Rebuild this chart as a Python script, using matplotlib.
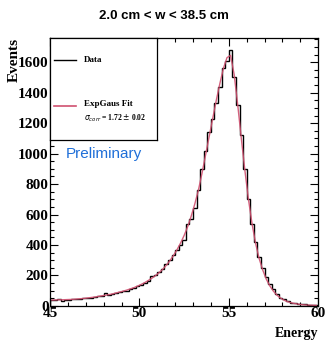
import numpy as np
import matplotlib
matplotlib.use("Agg")
import matplotlib.pyplot as plt
from matplotlib.ticker import MultipleLocator
from matplotlib.lines import Line2D

# bin edges of the histogram (0.2 wide, 45 -> 60)
bin_lo = 45.0
bin_hi = 60.0
bin_width = 0.2

# counts
counts = [40, 38, 42, 35, 40, 38, 42, 45, 43, 50,
          52, 55, 58, 62, 68, 85, 72, 78, 85, 90,
          95, 100, 110, 118, 128, 140, 150, 165, 195, 200,
          220, 245, 275, 300, 335, 370, 400, 430, 540, 570,
          640, 760, 900, 1020, 1140, 1230, 1330, 1440, 1560, 1610,
          1680, 1500, 1320, 1120, 900, 700, 540, 420, 320, 250,
          190, 145, 110, 80, 55, 42, 30, 22, 18, 14,
          12, 10, 8, 6, 5]

# ExpGaus fit curve, sampled at the bin centres
fit_vals = [38, 39, 40, 40, 41, 42, 43, 45, 47, 49,
            52, 55, 58, 62, 66, 70, 74, 79, 85, 91,
            97, 104, 112, 120, 130, 141, 153, 167, 182, 199,
            218, 240, 266, 296, 330, 368, 412, 462, 520, 590,
            670, 760, 870, 990, 1110, 1230, 1350, 1460, 1560, 1630,
            1645, 1520, 1320, 1100, 890, 700, 540, 410, 310, 235,
            175, 130, 96, 70, 51, 37, 27, 20, 15, 11,
            8, 6, 5, 4, 3]

edges = np.arange(bin_lo, bin_hi + bin_width / 2, bin_width)
centres = edges[:-1] + bin_width / 2

serif = "Liberation Serif"
fig = plt.figure(figsize=(3.27, 3.41), dpi=100)
ax = fig.add_axes([0.153, 0.103, 0.820, 0.786])

ax.stairs(counts, edges, color="black", lw=1.0)
ax.plot(centres, fit_vals, color="#d05070", lw=1.0, alpha=0.9)

ax.set_xlim(bin_lo, bin_hi)
ax.set_ylim(0, 1760)
ax.xaxis.set_major_locator(MultipleLocator(5))
ax.xaxis.set_minor_locator(MultipleLocator(1))
ax.yaxis.set_major_locator(MultipleLocator(200))
ax.yaxis.set_minor_locator(MultipleLocator(50))
ax.tick_params(which="both", direction="in", top=True, right=True,
               labelsize=11, pad=1, width=0.8)
ax.tick_params(which="major", length=6)
ax.tick_params(which="minor", length=3)
for lab in ax.get_xticklabels() + ax.get_yticklabels():
    lab.set_fontfamily(serif)
    lab.set_fontweight("bold")
for s in ax.spines.values():
    s.set_linewidth(0.9)

fig.text(0.50, 0.953, "2.0 cm < w < 38.5 cm", ha="center", va="center",
         fontsize=9.5, fontweight="bold", family="Liberation Sans")
fig.text(0.045, 0.889, "Events", rotation=90, ha="center", va="top",
         fontsize=11, fontweight="bold", family=serif)
fig.text(0.972, 0.022, "Energy", ha="right", va="center",
         fontsize=10, fontweight="bold", family=serif)
ax.text(0.06, 0.565, "Preliminary", transform=ax.transAxes, color="#1f6fd8",
        fontsize=11, family="Liberation Sans", va="center")

# legend box like ROOT's TLegend
leg_ax = fig.add_axes([0.153, 0.589, 0.327, 0.300])
leg_ax.set_xlim(0, 1)
leg_ax.set_ylim(0, 1)
leg_ax.set_xticks([])
leg_ax.set_yticks([])
for s in leg_ax.spines.values():
    s.set_linewidth(0.9)
leg_ax.add_line(Line2D([0.04, 0.24], [0.78, 0.78], color="black", lw=1.0))
leg_ax.text(0.32, 0.78, "Data", fontsize=6.5, fontweight="bold", family=serif,
            va="center")
leg_ax.add_line(Line2D([0.04, 0.24], [0.33, 0.33], color="#d05070", lw=1.2))
leg_ax.text(0.32, 0.35, "ExpGaus Fit", fontsize=6.5, fontweight="bold",
            family=serif, va="center")
leg_ax.text(0.32, 0.21, r"$\sigma_{corr}$ = 1.72 $\pm$ 0.02", fontsize=5.5,
            fontweight="bold", family=serif, va="center")

fig.savefig("out.png", dpi=100)
